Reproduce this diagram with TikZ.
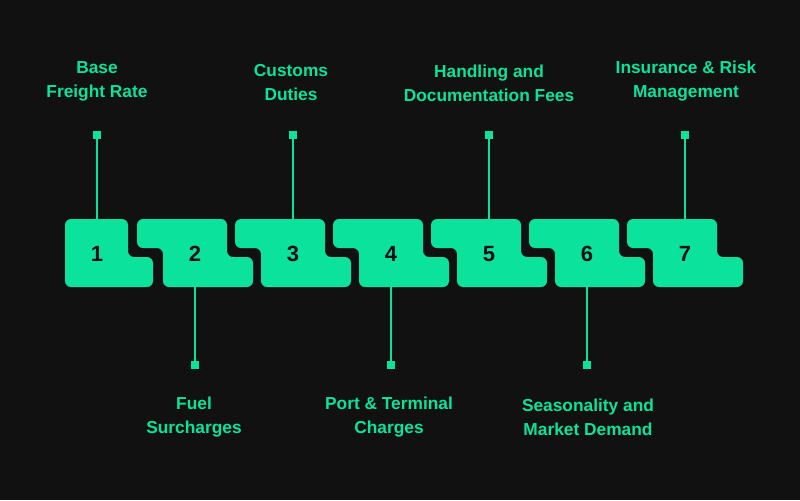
\documentclass[tikz,border=0pt]{standalone}
\usepackage{fontspec}
\setmainfont{Liberation Sans}
\usetikzlibrary{calc}
\begin{document}
\begin{tikzpicture}[x=0.75pt,y=-0.75pt,
  piece/.style={fill=gr,rounded corners=4.5pt},
  num/.style={font=\bfseries\fontsize{16.5}{17}\selectfont,text=bg},
  lbl/.style={font=\bfseries\fontsize{13}{18}\selectfont,text=gr,align=center},
  mk/.style={fill=gr,minimum size=6.5pt,inner sep=0pt},
  ln/.style={draw=gr,line width=2.2pt}]
\definecolor{gr}{HTML}{0BE39C}
\definecolor{bg}{HTML}{111111}
\fill[bg] (0,0) rectangle (800,500);
\useasboundingbox (0,0) rectangle (800,500);
\fill[piece] (65,219) -- (128,219) -- (128,257) -- (153,257) -- (153,287) -- (65,287) -- cycle;
\foreach \i in {2,...,7}{
  \pgfmathsetmacro{\L}{137+98*(\i-2)}
  \fill[piece] (\L,219) -- (\L+90,219) -- (\L+90,257) -- (\L+116,257) -- (\L+116,287) -- (\L+26,287) -- (\L+26,248) -- (\L,248) -- cycle;
}
\foreach \i in {1,...,7}{
  \pgfmathsetmacro{\cx}{97+98*(\i-1)}
  \node[num] (p\i) at (\cx,254) {\i};
  \coordinate (t\i) at (\cx,219);
  \coordinate (b\i) at (\cx,287);
}
\foreach \i in {1,3,5,7}{
  \node[mk] (m\i) at ($(t\i)+(0,-84)$) {};
  \draw[ln] (m\i.center) -- (t\i);
}
\foreach \i in {2,4,6}{
  \node[mk] (m\i) at ($(b\i)+(0,78)$) {};
  \draw[ln] (b\i) -- (m\i.center);
}
\node[lbl] (l1) at (97,81) {Base\\Freight Rate};
\node[lbl] (l3) at (291,83) {Customs\\Duties};
\node[lbl] (l5) at (489,83) {Handling and\\Documentation Fees};
\node[lbl] (l7) at (686,81) {Insurance \& Risk\\Management};
\node[lbl] (l2) at (194,417) {Fuel\\Surcharges};
\node[lbl] (l4) at (389,417) {Port \& Terminal\\Charges};
\node[lbl] (l6) at (588,417) {Seasonality and\\Market Demand};
\end{tikzpicture}
\end{document}
